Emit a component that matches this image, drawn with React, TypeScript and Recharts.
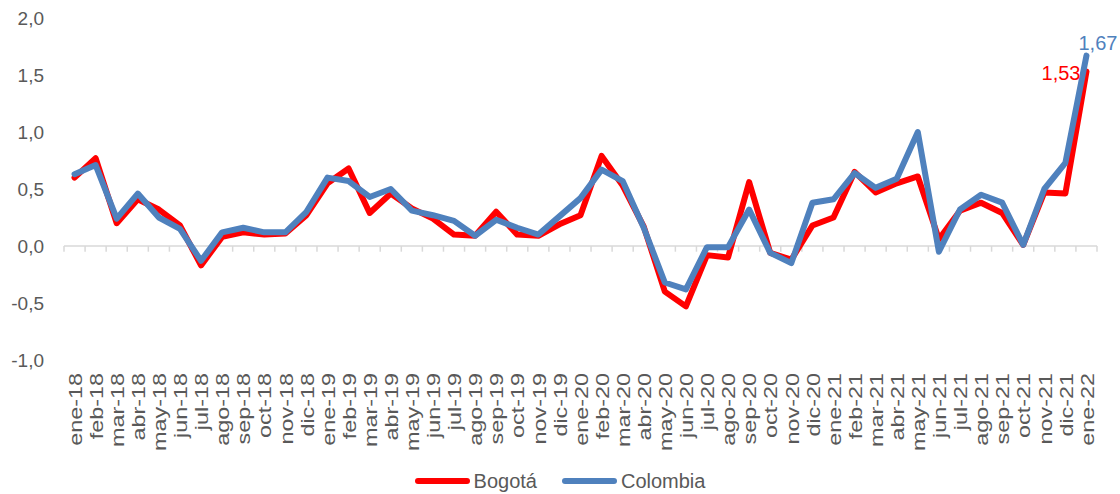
import React from 'react';
import { LineChart, Line, XAxis, YAxis, ReferenceLine, Legend, LabelList } from 'recharts';

const months = [
  'ene-18', 'feb-18', 'mar-18', 'abr-18', 'may-18', 'jun-18', 'jul-18', 'ago-18', 'sep-18', 'oct-18', 'nov-18', 'dic-18',
  'ene-19', 'feb-19', 'mar-19', 'abr-19', 'may-19', 'jun-19', 'jul-19', 'ago-19', 'sep-19', 'oct-19', 'nov-19', 'dic-19',
  'ene-20', 'feb-20', 'mar-20', 'abr-20', 'may-20', 'jun-20', 'jul-20', 'ago-20', 'sep-20', 'oct-20', 'nov-20', 'dic-20',
  'ene-21', 'feb-21', 'mar-21', 'abr-21', 'may-21', 'jun-21', 'jul-21', 'ago-21', 'sep-21', 'oct-21', 'nov-21', 'dic-21',
  'ene-22',
];

const bogota = [
  0.6, 0.77, 0.2, 0.41, 0.32, 0.18, -0.17, 0.08, 0.12, 0.1, 0.11, 0.27,
  0.55, 0.68, 0.29, 0.46, 0.33, 0.24, 0.1, 0.09, 0.3, 0.1, 0.09, 0.19,
  0.27, 0.79, 0.53, 0.17, -0.4, -0.53, -0.08, -0.1, 0.56, -0.06, -0.12, 0.18,
  0.25, 0.65, 0.47, 0.55, 0.61, 0.06, 0.31, 0.38, 0.29, 0.01, 0.47, 0.46,
  1.53,
];

const colombia = [
  0.63, 0.71, 0.24, 0.46, 0.25, 0.15, -0.13, 0.12, 0.16, 0.12, 0.12, 0.3,
  0.6, 0.57, 0.43, 0.5, 0.31, 0.27, 0.22, 0.09, 0.23, 0.16, 0.1, 0.26,
  0.42, 0.67, 0.57, 0.16, -0.32, -0.38, -0.01, -0.01, 0.32, -0.06, -0.15, 0.38,
  0.41, 0.64, 0.51, 0.59, 1.0, -0.05, 0.32, 0.45, 0.38, 0.01, 0.5, 0.73,
  1.67,
];

const yTicks = [-1, -0.5, 0, 0.5, 1, 1.5, 2];

const FONT = '"Liberation Sans", Arial, sans-serif';
const GRAY = '#595959';
const RED = '#FF0000';
const BLUE = '#4F81BD';

const data = months.map((m, i) => ({ idx: i, month: m, bogota: bogota[i], colombia: colombia[i] }));
const xTicks = months.map((_, i) => i);
// tick marks sit between categories, like Excel
const boundaries = [...months.map((_, i) => i - 0.5), months.length - 0.5];
const last = months.length - 1;

const fmt = (v: number, d: number) => v.toFixed(d).replace('.', ',');

const MonthTick = (props: any) => {
  const { x, y, payload } = props;
  return (
    <g transform={`translate(${x},${y})`}>
      <text
        transform="rotate(-90) scale(1.23,1)"
        textAnchor="end"
        dy="0.38em"
        fontSize={19}
        fontFamily={FONT}
        fill={GRAY}
      >
        {months[payload.value]}
      </text>
    </g>
  );
};

const endLabel = (color: string, side: 'above' | 'left') => (p: any) => {
  if (p.index !== last) return null;
  const x = Number(p.x);
  const y = Number(p.y);
  return side === 'above' ? (
    <text x={x - 8} y={y - 13} dy="0.35em" textAnchor="start" fontSize={20} fontFamily={FONT} fill={color}>
      {fmt(Number(p.value), 2)}
    </text>
  ) : (
    <text x={x - 6} y={y + 1} dy="0.35em" textAnchor="end" fontSize={20} fontFamily={FONT} fill={color}>
      {fmt(Number(p.value), 2)}
    </text>
  );
};

const legendItems = [
  { name: 'Bogotá', color: RED },
  { name: 'Colombia', color: BLUE },
];

const renderLegend = () => (
  <div
    style={{
      display: 'flex',
      justifyContent: 'center',
      alignItems: 'center',
      height: 26,
      fontFamily: FONT,
      fontSize: 20,
      color: GRAY,
    }}
  >
    {legendItems.map((it, i) => (
      <div key={it.name} style={{ display: 'flex', alignItems: 'center', marginLeft: i ? 25 : 0 }}>
        <svg width={55} height={8} style={{ marginRight: 4 }}>
          <line x1={3} y1={4} x2={52} y2={4} stroke={it.color} strokeWidth={6} strokeLinecap="round" />
        </svg>
        <span>{it.name}</span>
      </div>
    ))}
  </div>
);

export default function App() {
  return (
    <div style={{ position: 'absolute', left: 0, top: 0, background: '#fff' }}>
      <LineChart width={1120} height={494} data={data} margin={{ top: 18, right: 23, bottom: 0, left: 0 }}>
        <XAxis
          type="number"
          dataKey="idx"
          domain={[-0.5, months.length - 0.5]}
          ticks={xTicks}
          interval={0}
          axisLine={false}
          tickLine={false}
          tickSize={0}
          tickMargin={13}
          height={108}
          tick={<MonthTick />}
          allowDataOverflow
        />
        <YAxis
          domain={[-1, 2]}
          ticks={yTicks}
          width={64}
          axisLine={false}
          tickLine={false}
          tickSize={0}
          tickMargin={20}
          tickFormatter={(v: number) => fmt(v, 1)}
          tick={{ fontSize: 19, fontFamily: FONT, fill: GRAY }}
        />
        <ReferenceLine y={0} stroke="#D9D9D9" strokeWidth={1.5} ifOverflow="visible" />
        {boundaries.map((b) => (
          <ReferenceLine
            key={b}
            segment={[{ x: b, y: 0 }, { x: b, y: -0.05 }]}
            stroke="#D9D9D9"
            strokeWidth={1.5}
            ifOverflow="visible"
          />
        ))}
        <Legend verticalAlign="bottom" content={renderLegend} wrapperStyle={{ left: 0, width: 1120 }} />
        <Line
          type="linear"
          dataKey="bogota"
          name="Bogotá"
          stroke={RED}
          strokeWidth={6}
          strokeLinejoin="round"
          strokeLinecap="round"
          dot={false}
          isAnimationActive={false}
        >
          <LabelList dataKey="bogota" content={endLabel(RED, 'left')} />
        </Line>
        <Line
          type="linear"
          dataKey="colombia"
          name="Colombia"
          stroke={BLUE}
          strokeWidth={6}
          strokeLinejoin="round"
          strokeLinecap="round"
          dot={false}
          isAnimationActive={false}
        >
          <LabelList dataKey="colombia" content={endLabel(BLUE, 'above')} />
        </Line>
      </LineChart>
    </div>
  );
}
